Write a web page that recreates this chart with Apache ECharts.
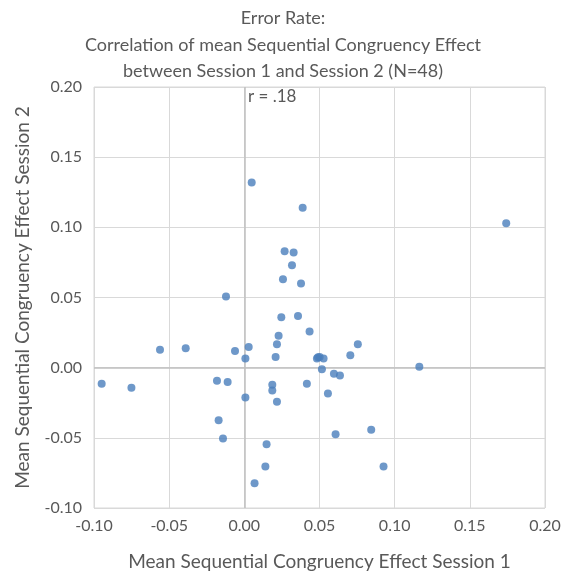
<!DOCTYPE html>
<html><head><meta charset="utf-8">
<script src="https://cdn.jsdelivr.net/npm/echarts@6/dist/echarts.min.js"></script>
<style>html,body{margin:0;padding:0;background:#fff}#c{width:566px;height:573px}</style>
</head><body><div id="c"></div>
<script>
const titleLines = ["Error Rate:", "Correlation of mean Sequential Congruency Effect", "between Session 1 and Session 2 (N=48)"];
const xName = "Mean Sequential Congruency Effect Session 1";
const yName = "Mean Sequential Congruency Effect Session 2";
const annotation = "r = .18";
const session1 = [0.0049,0.0388,0.0268,0.0328,0.0317,0.0257,0.0377,-0.0122,0.0246,0.0357,0.0434,0.0228,0.0217,-0.0561,-0.039,-0.0062,0.0029,0.0007,0.0208,0.0483,0.0501,0.0527,0.049,-0.0949,-0.0751,-0.0182,-0.0111,0.0186,0.0186,0.0007,0.0217,0.0416,-0.0171,-0.0142,0.0148,0.014,0.0068,0.0516,0.0755,0.0705,0.0596,0.0636,0.0556,0.1164,0.0607,0.0844,0.0926,0.1742];
const session2 = [0.132,0.114,0.083,0.082,0.073,0.063,0.060,0.0507,0.0359,0.0369,0.0257,0.0228,0.0166,0.0128,0.0138,0.0119,0.0147,0.0066,0.0076,0.0066,0.0076,0.0066,0.0075,-0.0114,-0.0143,-0.0093,-0.0103,-0.0121,-0.0162,-0.0212,-0.0243,-0.0114,-0.0374,-0.0505,-0.0546,-0.0705,-0.0824,-0.0012,0.0166,0.0088,-0.0043,-0.0055,-0.0184,0.0007,-0.0474,-0.0443,-0.0705,0.1029];
const points = session1.map((x,i)=>[x, session2[i]]);
const FONT = 'Lato';
const TXT = '#595959';
const chart = echarts.init(document.getElementById('c'));
chart.setOption({
  animation:false,
  textStyle:{fontFamily:FONT},
  title:{text:titleLines.join('\n'), left:'center', top:0,
    textStyle:{fontFamily:FONT,fontSize:18,fontWeight:'normal',color:TXT,lineHeight:26.5}},
  grid:{left:94,right:21,top:87,bottom:65,show:true,borderColor:'#d9d9d9',borderWidth:1,
    containLabel:false,outerBoundsMode:'none'},
  xAxis:{type:'value',min:-0.1,max:0.2,interval:0.05,
    name:xName,nameLocation:'middle',nameGap:44,
    nameTextStyle:{fontFamily:FONT,fontSize:19,color:TXT},
    axisLine:{show:false},axisTick:{show:false},
    axisLabel:{fontFamily:FONT,fontSize:16,color:TXT,margin:10,formatter:v=>v.toFixed(2)},
    splitLine:{lineStyle:{color:'#d9d9d9',width:1}}},
  yAxis:{type:'value',min:-0.1,max:0.2,interval:0.05,
    name:yName,nameLocation:'middle',nameGap:62,
    nameTextStyle:{fontFamily:FONT,fontSize:19,color:TXT},
    axisLine:{show:false},axisTick:{show:false},
    axisLabel:{fontFamily:FONT,fontSize:16,color:TXT,margin:12,formatter:v=>v.toFixed(2)},
    splitLine:{lineStyle:{color:'#d9d9d9',width:1}}},
  graphic:[{type:'text',left:248,top:88,style:{text:annotation,fontFamily:FONT,fontSize:17,fill:TXT}}],
  series:[{type:'scatter',data:points,symbolSize:8,
    itemStyle:{color:'#4a7ebb'},
    markLine:{silent:true,symbol:'none',label:{show:false},
      lineStyle:{color:'#bfbfbf',width:1.5,type:'solid'},
      data:[{xAxis:0},{yAxis:0}]},
    z:5}]
});
</script></body></html>
